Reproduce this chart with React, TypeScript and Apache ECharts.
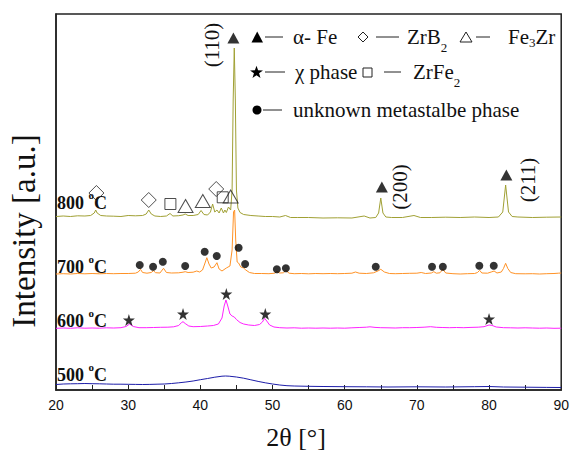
import React, { useEffect, useRef } from 'react';
import * as echarts from 'echarts';

// 2θ (deg) vs stacked intensity (a.u.)
const trace800: number[][] = [
  [20, 173.5], [21, 174], [22, 173.5], [23, 174.2], [24, 174], [24.8, 174.5], [25.3, 177], [25.5, 180], [25.7, 177], [26.2, 174.5],
  [27, 174], [28, 173.8], [29, 173.5], [30, 174.5], [31, 174.2], [32, 174.5], [32.5, 176], [32.85, 180], [33.2, 176], [33.7, 174],
  [34.5, 173.5], [35.3, 174], [35.8, 176.5], [36.2, 174], [37, 174.3], [37.6, 175], [37.9, 176], [38.3, 174.5], [39, 174.5], [39.7, 175.5],
  [40.1, 179.5], [40.5, 175.5], [41, 175], [41.4, 178], [41.7, 186], [42, 178], [42.3, 180], [42.6, 177], [42.9, 182], [43.2, 177],
  [43.4, 180], [43.6, 177.5], [43.9, 183], [44.2, 180], [44.4, 200], [44.55, 290], [44.7, 342], [44.85, 290], [45.0, 200], [45.2, 182],
  [45.5, 177.5], [46, 175.5], [47, 174.5], [48, 174], [49, 173.5], [50, 173.5], [51, 173], [51.8, 174.5], [52.5, 172.5], [53.5, 172.5],
  [55, 172.5], [57, 172], [59, 172.2], [61, 172], [62.7, 174], [63.5, 172], [64.3, 172.5], [64.7, 177], [65.0, 192], [65.3, 177],
  [65.7, 173], [66.5, 172.5], [68, 172.5], [69.6, 174.5], [70.5, 172.5], [72, 172.5], [74, 172.8], [76, 172.5], [78, 173], [80, 172.5],
  [81.3, 173], [81.9, 178], [82.3, 205], [82.7, 178], [83.2, 173.5], [84, 173], [86, 172.5], [88, 172.8], [90, 173],
];
const trace700: number[][] = [
  [20, 116], [21, 116.3], [22, 116], [23, 116.5], [24, 116.2], [25, 116.5], [26, 116.2], [27, 116.5], [28, 116.3], [29, 116.5],
  [30, 116.5], [31, 116.8], [31.4, 118], [31.7, 120.7], [32, 117.5], [32.6, 116.8], [33.2, 117.5], [33.5, 119.3], [33.8, 117.3], [34.4, 117],
  [34.9, 121.7], [35.3, 117.5], [36, 117], [37, 117.2], [37.6, 117.8], [37.9, 118.3], [38.3, 117.5], [39, 117.8], [39.5, 119], [39.9, 118],
  [40.3, 120], [40.6, 126], [40.9, 132.3], [41.2, 126], [41.5, 122], [41.9, 123], [42.3, 127.3], [42.6, 121], [43, 119], [43.6, 122],
  [44.1, 124], [44.4, 140], [44.6, 178], [44.75, 180], [44.9, 150], [45.1, 128], [45.3, 127], [45.6, 123], [46, 122], [46.3, 120],
  [46.8, 117.5], [47.5, 116.5], [48.5, 116.5], [49.5, 116.3], [50.3, 116.8], [50.6, 118.5], [51, 117], [51.5, 117.2], [51.85, 119.5], [52.3, 116.8],
  [53, 116.3], [54, 116.5], [55, 116.2], [56, 116.5], [57, 116.3], [58, 116.5], [59, 116.3], [60, 116.5], [61, 116.8], [61.5, 118],
  [62, 116.8], [63, 116.5], [64, 117.2], [64.6, 119], [65, 120.7], [65.5, 118], [66.2, 116.5], [67, 116.3], [68, 116.5], [69, 116.7],
  [70, 116.8], [70.6, 117.5], [71.2, 116.5], [72, 117], [72.35, 118.3], [72.7, 116.8], [73.2, 117.2], [73.6, 120.7], [74, 117], [75, 116.3],
  [76, 116], [77, 116.3], [78, 116.5], [78.4, 117.5], [78.7, 119.7], [79, 117], [79.8, 116.8], [80.3, 118], [80.7, 119], [81.1, 117],
  [81.7, 118], [82, 121.5], [82.3, 126.7], [82.6, 121.5], [83, 117.5], [83.7, 116.3], [85, 116.2], [86, 116.3], [87, 116], [88, 116.3],
  [89, 116.5], [89.6, 116.8], [90, 117],
];
const trace600: number[][] = [
  [20, 61.7], [21, 62], [22, 61.7], [23, 62.2], [24, 61.8], [25, 62], [26, 61.8], [27, 62.2], [28, 62], [29, 62.3],
  [29.7, 63.5], [30.2, 66], [30.7, 63.5], [31.5, 62.3], [32.5, 62.3], [33.5, 62.5], [34.5, 62.7], [35.5, 62.8], [36.3, 63.2], [37, 64.5],
  [37.4, 67.5], [37.6, 68.3], [37.9, 66.5], [38.4, 64], [39, 63.3], [40, 63.5], [41, 64], [41.8, 64.5], [42.5, 66], [43, 72],
  [43.3, 84], [43.55, 90], [43.8, 84], [44.1, 76], [44.4, 74], [44.7, 73], [45, 70.5], [45.5, 67.5], [46, 66], [46.7, 65],
  [47.5, 64.5], [48.2, 65.5], [48.6, 68], [48.9, 71.7], [49.2, 69], [49.6, 65], [50.2, 63], [51, 62.3], [52, 62], [53, 62.2],
  [54, 61.8], [55, 62], [56, 61.8], [57, 62], [58, 61.8], [59, 62], [60, 61.8], [61, 62.2], [62, 62.5], [63, 62.8],
  [63.5, 63.2], [64.2, 62.6], [65, 62.3], [66, 62.2], [67, 62], [68, 62.3], [69, 62.3], [70, 62.5], [71, 62.8], [71.9, 63.3],
  [72.7, 62.7], [73.5, 62.5], [74.5, 62.3], [75.5, 62.5], [76.5, 62.3], [77.5, 62.6], [78.5, 62.8], [79.3, 63.3], [80, 65], [80.4, 64.6],
  [81, 63], [82, 62.3], [83, 62.2], [84, 62], [85, 62.2], [86, 62], [87, 61.8], [88, 62], [89, 61.7], [90, 61.8],
];
const trace500: number[][] = [
  [20, 5.5], [21, 6], [22, 6.2], [23, 6.3], [24, 6.5], [25, 6.3], [26, 6.2], [27, 6.0], [28, 5.8], [29, 5.8],
  [30, 5.7], [31, 5.6], [32, 5.5], [33, 5.6], [34, 5.8], [35, 6.0], [36, 6.5], [37, 7.2], [38, 8.0], [39, 9.0],
  [40, 10.3], [41, 11.5], [42, 12.8], [43, 13.8], [43.5, 14], [44, 13.8], [45, 13], [46, 11.8], [47, 10.2], [48, 8.6],
  [49, 7.2], [50, 6], [51, 5], [52, 4.3], [53, 4], [55, 3.7], [57, 3.5], [60, 3.3], [63, 3.2], [66, 3],
  [70, 3.2], [74, 3], [78, 3.3], [80, 3.5], [82, 3.0], [85, 2.8], [88, 2.6], [90, 2.5],
];

// phase markers [2θ, marker height]
const alphaFe: number[][] = [[44.58, 352], [65.15, 203], [82.4, 215]];
const zrB2: number[][] = [[25.6, 197], [32.85, 190], [42.2, 201]];
const zrFe2: number[][] = [[35.85, 186], [43.1, 192.7]];
const fe3Zr: number[][] = [[37.95, 184], [40.34, 189], [44.2, 193.5]];
const unknownPhase: number[][] = [
  [31.6, 125], [33.45, 123.3], [34.8, 128.3], [37.9, 124], [40.6, 138.3], [42.27, 134], [45.3, 142.3], [46.2, 126],
  [50.6, 120.7], [51.85, 121.7], [64.3, 123.3], [72.1, 123.3], [73.6, 123.3], [78.65, 124.3], [80.65, 124.3],
];
const chiPhase: number[][] = [[30.1, 70], [37.6, 76], [43.6, 96], [49, 76], [80, 71]];

const temperatures = ['800', '700', '600', '500'];
const xTicks = { min: 20, max: 90, step: 10 };

const SERIF = "'Liberation Serif', 'DejaVu Serif', 'Times New Roman', serif";
const SANS = "'Liberation Sans', Arial, sans-serif";
const STAR = 'path://M50,0L61.2,34.5L97.6,34.5L68.2,55.9L79.4,90.5L50,69.1L20.6,90.5L31.8,55.9L2.4,34.5L38.8,34.5Z';

function starPoints(cx: number, cy: number, R: number, r: number) {
  const pts: number[][] = [];
  for (let i = 0; i < 10; i++) {
    const a = -Math.PI / 2 + (i * Math.PI) / 5;
    const rad = i % 2 === 0 ? R : r;
    pts.push([cx + rad * Math.cos(a), cy + rad * Math.sin(a)]);
  }
  return pts;
}

function txt(x: number, y: number, text: string, size: number, extra: any = {}) {
  return {
    type: 'text',
    x,
    y,
    rotation: extra.rotation || 0,
    style: {
      text,
      fontSize: size,
      fontFamily: SERIF,
      fontWeight: extra.bold ? 'bold' : 'normal',
      fill: '#111',
      textAlign: extra.align || 'left',
      align: extra.align || 'left',
      textVerticalAlign: 'middle',
      verticalAlign: 'middle',
    },
  };
}
// text with a subscript: main text, sub text, optional tail; lh controls how low the subscript sits
function subTxt(x: number, y: number, main: string, sub: string, tail: string, lh: number) {
  return {
    type: 'text',
    x,
    y,
    style: {
      text: `{a|${main}}{s|${sub}}` + (tail ? `{a|${tail}}` : ''),
      textAlign: 'left',
      align: 'left',
      textVerticalAlign: 'middle',
      verticalAlign: 'middle',
      rich: {
        a: { fontSize: 21, fontFamily: SERIF, fill: '#111', lineHeight: lh },
        s: { fontSize: 13, fontFamily: SERIF, fill: '#111', verticalAlign: 'bottom' },
      },
    },
  };
}
function supTxt(x: number, y: number, main: string) {
  return {
    type: 'text',
    x,
    y,
    style: {
      text: `{a|${main} }{o|o}{a|C}`,
      textAlign: 'left',
      align: 'left',
      textVerticalAlign: 'middle',
      verticalAlign: 'middle',
      rich: {
        a: { fontSize: 18, fontWeight: 'bold', fontFamily: SERIF, fill: '#111', lineHeight: 26 },
        o: { fontSize: 11, fontWeight: 'bold', fontFamily: SERIF, fill: '#111', verticalAlign: 'top' },
      },
    },
  };
}
function dash(x1: number, x2: number, y: number) {
  return { type: 'line', shape: { x1, y1: y, x2, y2: y }, style: { stroke: '#222', lineWidth: 1 } };
}

export default function App() {
  const ref = useRef<HTMLDivElement>(null);
  useEffect(() => {
    document.body.style.margin = '0';
    const chart = echarts.init(ref.current!, null, { renderer: 'svg' });
    const hollow = { color: 'rgba(0,0,0,0)', borderColor: '#222', borderWidth: 1 };
    const tempY = [202.5, 266.5, 320.5, 374.5];
    const tempLabels = temperatures.map((t, i) => supTxt(57, tempY[i], t));
    chart.setOption({
      animation: false,
      grid: { left: 56, right: 9, top: 14, bottom: 60, show: true, borderColor: '#222', borderWidth: 1.5 },
      xAxis: {
        type: 'value',
        min: xTicks.min,
        max: xTicks.max,
        interval: xTicks.step,
        axisLine: { show: true, lineStyle: { color: '#222', width: 1.5 } },
        axisTick: { show: true, inside: true, length: 5, lineStyle: { color: '#222', width: 1 } },
        minorTick: { show: true, splitNumber: 2, length: 5, lineStyle: { color: '#222', width: 1 } },
        axisLabel: { fontSize: 14, color: '#111', fontFamily: SANS, margin: 8 },
        splitLine: { show: false },
      },
      yAxis: {
        type: 'value',
        min: 0,
        max: 376,
        axisLine: { show: true, lineStyle: { color: '#222', width: 1.5 } },
        axisTick: { show: false },
        axisLabel: { show: false },
        splitLine: { show: false },
      },
      series: [
        { type: 'line', data: trace500, showSymbol: false, lineStyle: { color: '#1c1ca8', width: 1 }, z: 2 },
        { type: 'line', data: trace600, showSymbol: false, lineStyle: { color: '#ff22ff', width: 1 }, z: 2 },
        { type: 'line', data: trace700, showSymbol: false, lineStyle: { color: '#ff9226', width: 1 }, z: 2 },
        { type: 'line', data: trace800, showSymbol: false, lineStyle: { color: '#a0a034', width: 1 }, z: 3 },
        { type: 'scatter', data: alphaFe, symbol: 'triangle', symbolSize: [12, 11], itemStyle: { color: '#000' }, z: 5 },
        { type: 'scatter', data: zrB2, symbol: 'diamond', symbolSize: 15, itemStyle: hollow, z: 5 },
        { type: 'scatter', data: zrFe2, symbol: 'rect', symbolSize: 11, itemStyle: hollow, z: 5 },
        { type: 'scatter', data: fe3Zr, symbol: 'triangle', symbolSize: [15, 13], itemStyle: hollow, z: 5 },
        { type: 'scatter', data: unknownPhase, symbol: 'circle', symbolSize: 8, itemStyle: { color: '#000' }, z: 5 },
        { type: 'scatter', data: chiPhase, symbol: STAR, symbolSize: 12, itemStyle: { color: '#000' }, z: 5 },
      ],
      graphic: [
        // legend row 1
        { type: 'polygon', shape: { points: [[251.5, 42.5], [263, 42.5], [257.2, 31.5]] }, style: { fill: '#000' } },
        dash(265, 283, 37),
        txt(293, 37, 'α- Fe', 21),
        { type: 'polygon', shape: { points: [[363, 32], [368, 37], [363, 42], [358, 37]] }, style: { fill: 'none', stroke: '#222', lineWidth: 1 } },
        dash(376, 399, 37),
        subTxt(407, 37, 'ZrB', '2', '', 34),
        { type: 'polygon', shape: { points: [[460, 42], [472, 42], [466, 32]] }, style: { fill: 'none', stroke: '#222', lineWidth: 1 } },
        dash(476, 490, 37),
        subTxt(508, 37, 'Fe', '3', 'Zr', 24),
        // legend row 2
        { type: 'polygon', shape: { points: starPoints(256.5, 72.5, 6.8, 2.7) }, style: { fill: '#000' } },
        dash(265, 285, 72),
        txt(295, 72, 'χ phase', 21),
        { type: 'rect', shape: { x: 363, y: 68, width: 9, height: 9 }, style: { fill: 'none', stroke: '#222', lineWidth: 1 } },
        dash(384, 401, 72),
        subTxt(413, 72, 'ZrFe', '2', '', 34),
        // legend row 3
        { type: 'circle', shape: { cx: 257, cy: 110, r: 4.5 }, style: { fill: '#000' } },
        dash(263, 282, 110),
        txt(293, 110, 'unknown metastalbe phase', 21),
        // peak indices
        txt(212, 45, '(110)', 21, { rotation: Math.PI / 2, align: 'center' }),
        txt(400, 187, '(200)', 21, { rotation: Math.PI / 2, align: 'center' }),
        txt(528, 180, '(211)', 21, { rotation: Math.PI / 2, align: 'center' }),
        // temperatures
        ...tempLabels,
        // axis titles
        txt(296, 437, '2θ [°]', 26, { align: 'center' }),
        txt(24, 231, 'Intensity [a.u.]', 33, { rotation: Math.PI / 2, align: 'center' }),
      ],
    });
    return () => chart.dispose();
  }, []);
  return <div ref={ref} style={{ width: 572, height: 450 }} />;
}
